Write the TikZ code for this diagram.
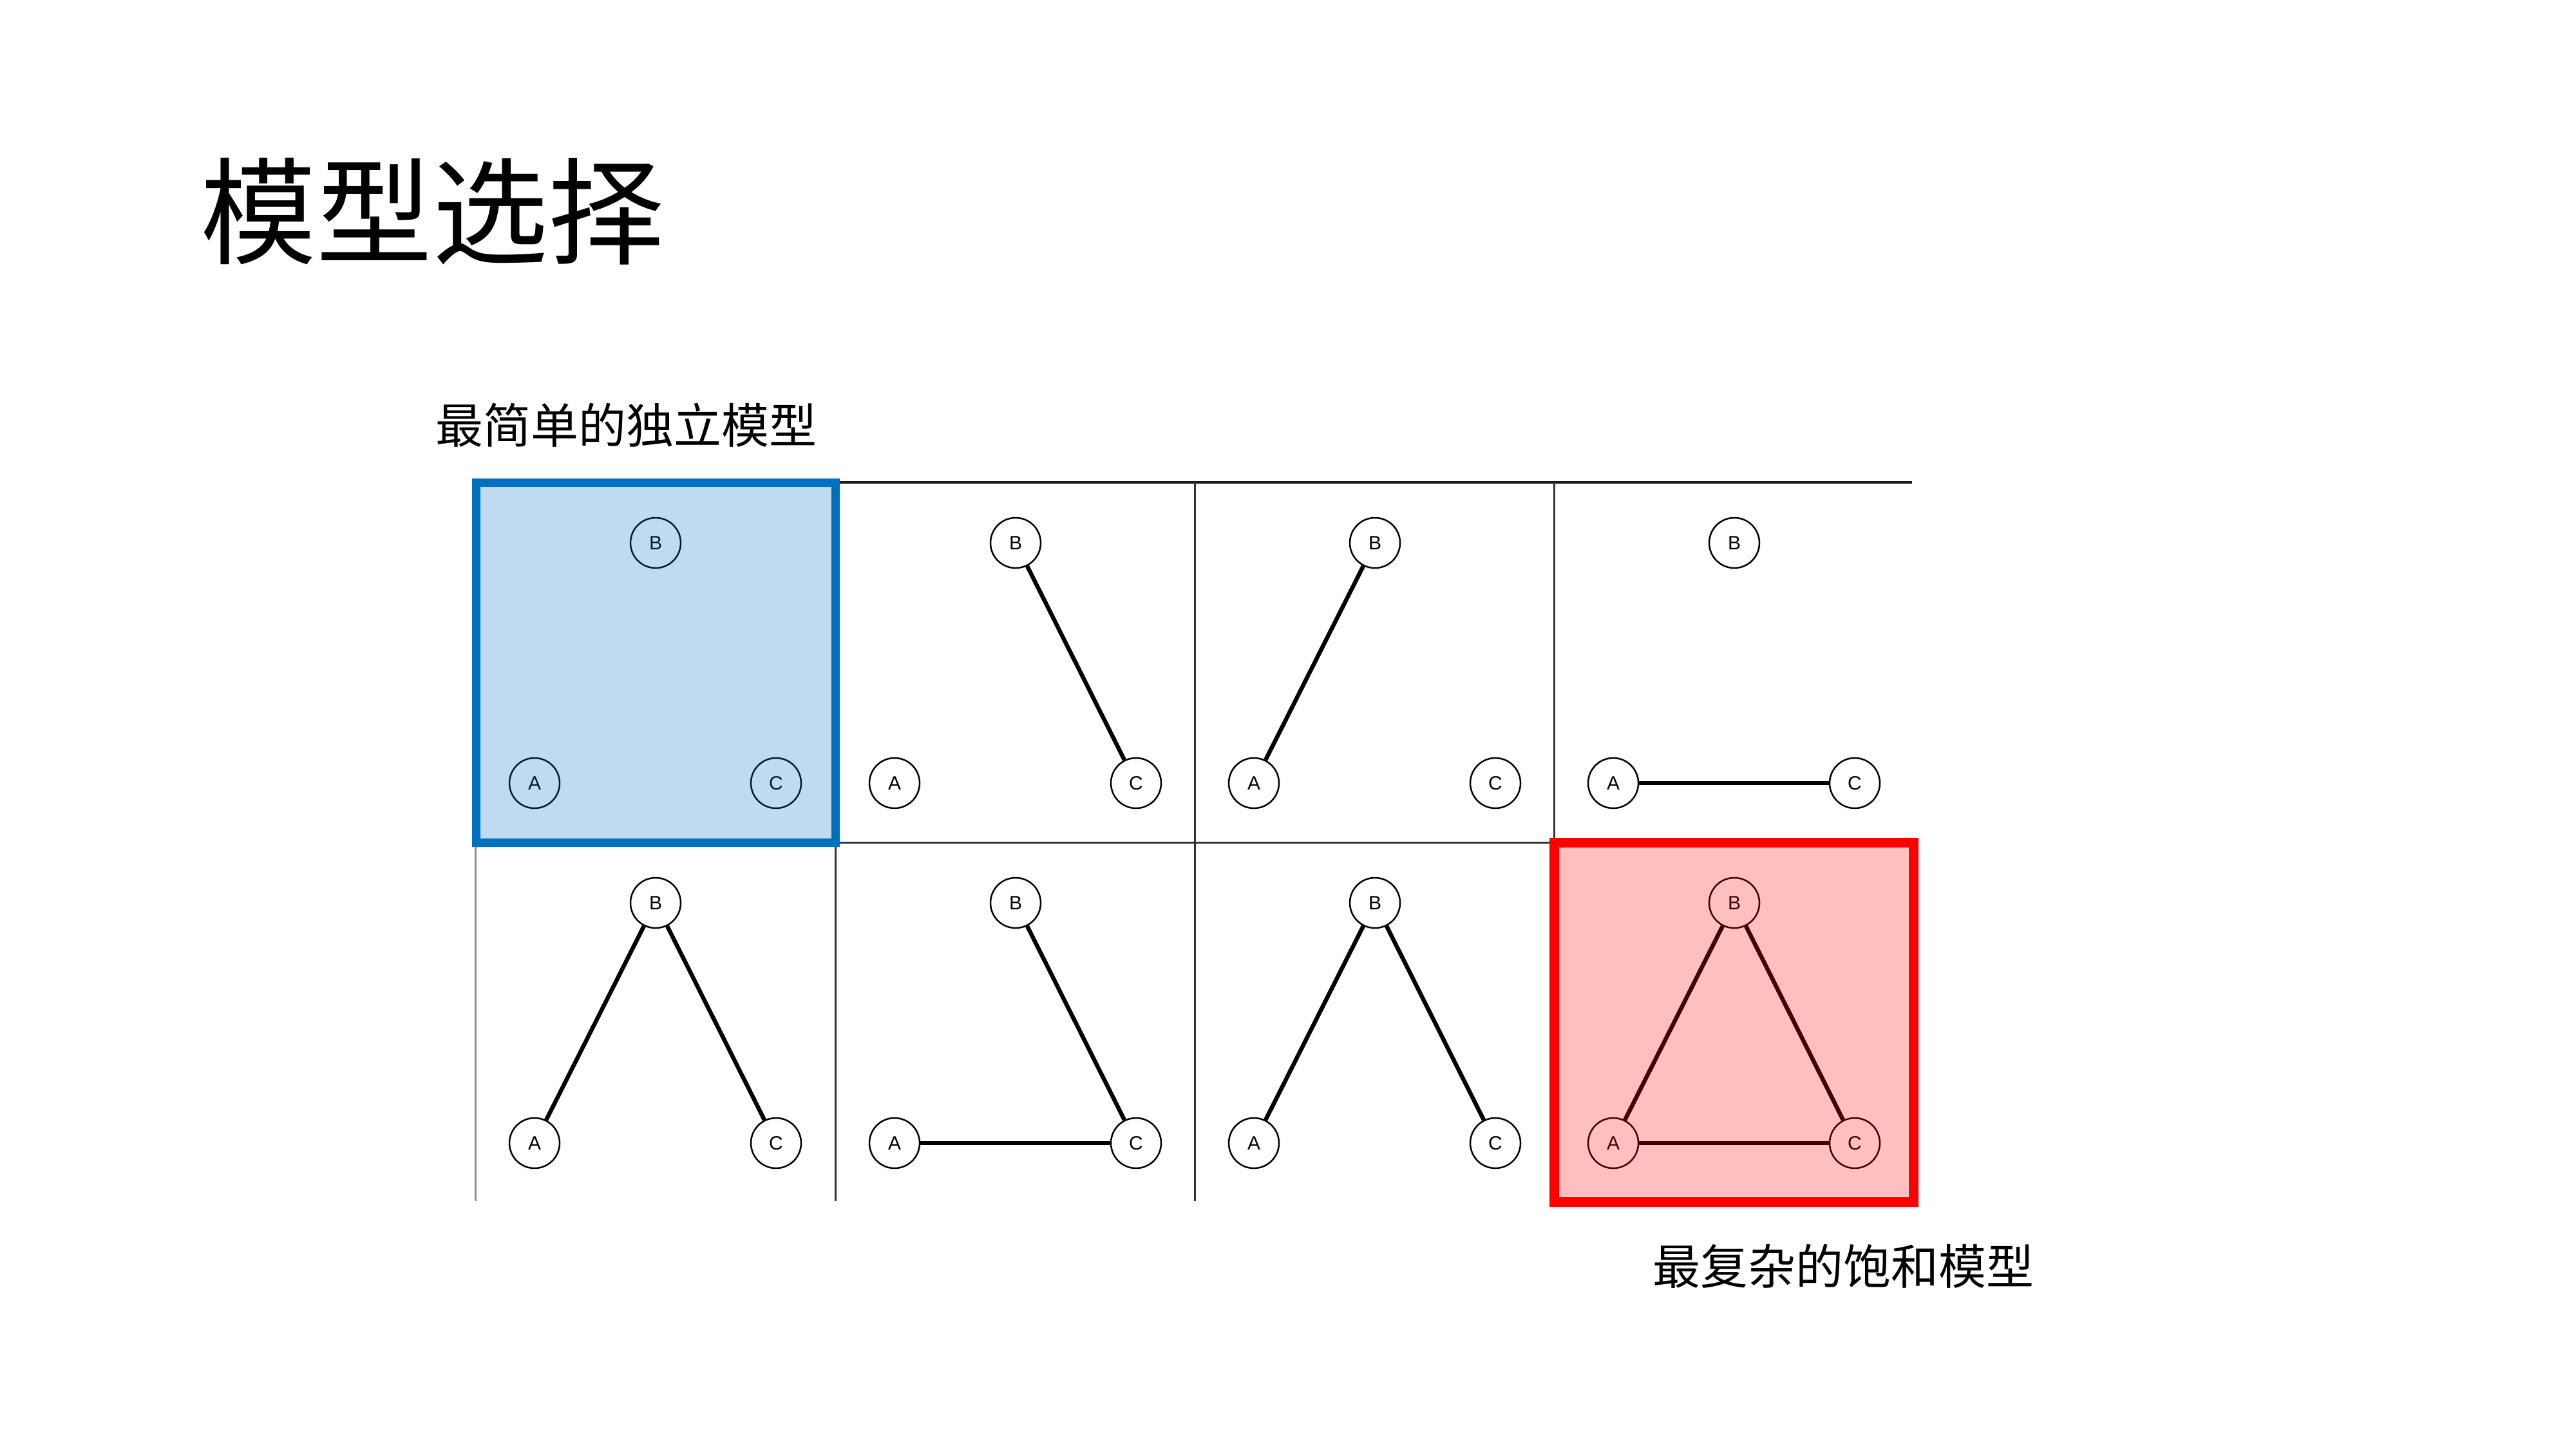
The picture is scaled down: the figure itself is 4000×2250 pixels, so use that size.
\documentclass[tikz,border=0pt]{standalone}
\usepackage{fontspec}
\setmainfont{Liberation Sans}
\newfontfamily\cjk{Noto Sans CJK SC}
\definecolor{boxblue}{RGB}{0,112,192}
\definecolor{boxred}{RGB}{255,0,0}
\begin{document}
\begin{tikzpicture}[x=1pt,y=-1pt,
  vnode/.style={circle,draw=black,line width=2.5pt,minimum size=78pt,inner sep=0pt,font=\fontsize{30}{30}\selectfont},
  edgeline/.style={line width=6.5pt,draw=black},
  gridline/.style={line width=3pt,draw=black!80},
  gridtop/.style={line width=3.5pt,draw=black!90},
  gridlight/.style={line width=3pt,draw=black!45},
  titletext/.style={font=\cjk\fontsize{180}{180}\selectfont,inner sep=0pt,anchor=west},
  labeltext/.style={font=\cjk\fontsize{74}{74}\selectfont,inner sep=0pt,anchor=west}
]
\useasboundingbox (0,0) rectangle (4000,2250);
\fill[white] (0,0) rectangle (4000,2250);

% texts
\node[titletext] (title) at (311,328) {模型选择};
\node[labeltext] (simple) at (676,660) {最简单的独立模型};
\node[labeltext] (complex) at (2566,1966) {最复杂的饱和模型};

% grid lines
\coordinate (g1) at (1297,749);
\coordinate (g2) at (2969,749);
\coordinate (g3) at (1297,1308);
\coordinate (g4) at (2413,1308);
\coordinate (g5) at (1297,1865);
\coordinate (g6) at (1855,749);
\coordinate (g7) at (1855,1865);
\coordinate (g8) at (2413,749);
\coordinate (g9) at (738,1308);
\coordinate (g10) at (738,1865);
\draw[gridtop] (g1) -- (g2);
\draw[gridline] (g3) -- (g4);
\draw[gridline] (g1) -- (g5);
\draw[gridline] (g6) -- (g7);
\draw[gridline] (g8) -- (g4);
\draw[gridlight] (g9) -- (g10);

% nodes of the eight cells
\foreach \i/\cx/\cy in {1/738/749,2/1297/749,3/1855/749,4/2413/749,5/738/1308,6/1297/1308,7/1855/1308,8/2413/1308}{
  \node[vnode] (B\i) at (\cx+280,\cy+94) {B};
  \node[vnode] (A\i) at (\cx+92,\cy+467) {A};
  \node[vnode] (C\i) at (\cx+467,\cy+467) {C};
}

% edges
\draw[edgeline] (B2) -- (C2);
\draw[edgeline] (A3) -- (B3);
\draw[edgeline] (A4) -- (C4);
\draw[edgeline] (A5) -- (B5);
\draw[edgeline] (B5) -- (C5);
\draw[edgeline] (B6) -- (C6);
\draw[edgeline] (A6) -- (C6);
\draw[edgeline] (A7) -- (B7);
\draw[edgeline] (B7) -- (C7);
\draw[edgeline] (A8) -- (B8);
\draw[edgeline] (B8) -- (C8);
\draw[edgeline] (A8) -- (C8);

% highlight boxes
\coordinate (hb1) at (739,749);
\coordinate (hb2) at (1297,1308);
\coordinate (hr1) at (2413,1308);
\coordinate (hr2) at (2971,1866);
\path[fill=boxblue,fill opacity=0.25] (hb1) rectangle (hb2);
\draw[draw=boxblue,line width=13pt] (hb1) rectangle (hb2);
\path[fill=boxred,fill opacity=0.25] (hr1) rectangle (hr2);
\draw[draw=boxred,line width=15pt] (hr1) rectangle (hr2);
\end{tikzpicture}
\end{document}
